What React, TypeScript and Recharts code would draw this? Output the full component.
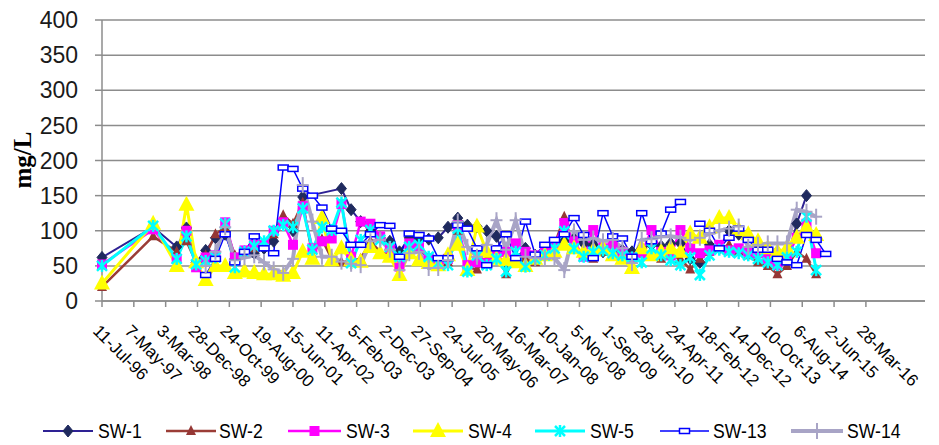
import React from "react"
import { CartesianGrid, Label, Legend, Line, LineChart, XAxis, YAxis } from "recharts"

// sampling dates (first two are one-off surveys, then roughly quarterly)
const sampleDates = [
  "1996-07-11", "1997-11-05",
  "1998-06-15", "1998-09-15", "1998-12-15",
  "1999-03-15", "1999-06-15", "1999-09-15", "1999-12-15",
  "2000-03-15", "2000-06-15", "2000-09-15", "2000-12-15",
  "2001-03-15", "2001-06-15", "2001-09-15", "2001-12-15",
  "2002-03-15", "2002-06-15", "2002-09-15", "2002-12-15",
  "2003-03-15", "2003-06-15", "2003-09-15", "2003-12-15",
  "2004-03-15", "2004-06-15", "2004-09-15", "2004-12-15",
  "2005-03-15", "2005-06-15", "2005-09-15", "2005-12-15",
  "2006-03-15", "2006-06-15", "2006-09-15", "2006-12-15",
  "2007-03-15", "2007-06-15", "2007-09-15", "2007-12-15",
  "2008-03-15", "2008-06-15", "2008-09-15", "2008-12-15",
  "2009-03-15", "2009-06-15", "2009-09-15", "2009-12-15",
  "2010-03-15", "2010-06-15", "2010-09-15", "2010-12-15",
  "2011-03-15", "2011-06-15", "2011-09-15", "2011-12-15",
  "2012-03-15", "2012-06-15", "2012-09-15", "2012-12-15",
  "2013-03-15", "2013-06-15", "2013-09-15", "2013-12-15",
  "2014-03-15", "2014-06-15", "2014-09-15", "2014-12-15",
  "2015-03-15",
]

const sw1 = [
  62, 105, 77,
  104, 55, 72, 90, 95, 60, 70, 68, 75, 85,
  115, 100, 148, null, null, null, 160, 130, 113, 100,
  90, 85, 70, 90, 88, 88, 90, 105, 118, 108,
  106, 100, 92, 55, 60, 75, 65, 70, 80, 85,
  88, 82, 80, 70, 75, 72, 70, 75, 80, 78,
  82, 82, 60, 55, 80, 75, 100, 95, 90, 80,
  75, 70, 60, 110, 150, null, null,
]
const sw2 = [
  20, 92, 70,
  85, 55, 65, 95, 105, 65, 70, 75, 80, 95,
  122, 110, 140, 65, 88, 60, 55, 58, 60, 85,
  70, 65, 50, 80, 75, 60, 55, 55, 100, 48,
  45, 60, 70, 38, 65, 60, 55, 70, 80, 120,
  75, 65, 60, 70, 75, 65, 50, 70, 65, 60,
  65, 60, 45, 60, 70, 75, 80, 70, 65, 55,
  50, 38, 50, 70, 60, 38, null,
]
const sw3 = [
  52, 102, 60,
  100, 48, 62, 65, 112, 62, 72, 80, 80, 100,
  112, 80, 135, 75, 85, 89, 138, 63, 113, 110,
  92, 75, 49, 82, 77, 61, 55, 60, 108, 51,
  55, 54, 65, 70, 82, 70, 65, 72, 80, 111,
  85, 63, 101, 75, 80, 70, 62, 68, 101, 70,
  65, 101, 75, 68, 72, 80, 72, 75, 70, 68,
  60, 51, 62, 90, 110, 68, null,
]
const sw4 = [
  25, 110, 50,
  137, 55, 30, 50, 50, 40, 42, 40, 38, 38,
  36, 40, 70, 60, 118, 58, 75, 58, 56, 77,
  68, 63, 37, 68, 58, 54, 51, 65, 80, 44,
  106, 70, 60, 58, 55, 50, 60, 65, 70, 80,
  75, 70, 72, 75, 65, 60, 47, 75, 65, 70,
  75, 70, 96, 90, 105, 118, 118, 101, 95, 85,
  75, 70, 75, 90, 105, 94, null,
]
const sw5 = [
  50, 107, 60,
  92, 52, 57, 62, 110, 48, 70, 78, 85, 100,
  108, 105, 132, 73, 105, 101, 140, 54, 87, 101,
  87, 77, 63, 77, 80, 63, 54, 51, 103, 42,
  65, 51, 60, 42, 70, 49, 60, 65, 75, 99,
  75, 63, 70, 72, 68, 65, 62, 55, 75, 65,
  58, 51, 62, 37, 65, 73, 70, 68, 65, 60,
  55, 51, 62, 70, 120, 44, null,
]
const sw13 = [
  null, null, null,
  null, null, 37, 60, 95, 55, 70, 92, 75, 68,
  190, 188, 160, 150, 133, 103, 100, 80, 80, 95,
  108, 107, 63, 96, 94, 89, 61, 61, 108, 103,
  75, 51, 75, 95, 61, 113, 66, 80, 87, 95,
  118, 94, 61, 125, 92, 89, 63, 125, 85, 96,
  130, 141, null, 110, 100, 75, 90, 103, 87, 73,
  73, 60, 55, 51, 94, 87, 67,
]
const sw14 = [
  null, null, null,
  null, null, 50, 70, 105, 58, 62, 65, 55, 45,
  40, 60, 165, 113, 63, 63, 56, 53, 51, 85,
  87, 73, 44, 68, 70, 47, 47, 58, 113, 77,
  63, 80, 115, 73, 115, 63, 61, 60, 61, 44,
  99, 87, 89, 85, 87, 75, 54, 87, 88, 92,
  92, 90, 87, 90, 96, 100, 103, 106, 77, 80,
  82, 82, 82, 130, 127, 120, null,
]

const tickLabels = [
  "11-Jul-96", "7-May-97", "3-Mar-98", "28-Dec-98", "24-Oct-99", "19-Aug-00",
  "15-Jun-01", "11-Apr-02", "5-Feb-03", "2-Dec-03", "27-Sep-04", "24-Jul-05",
  "20-May-06", "16-Mar-07", "10-Jan-08", "5-Nov-08", "1-Sep-09", "28-Jun-10",
  "24-Apr-11", "18-Feb-12", "14-Dec-12", "10-Oct-13", "6-Aug-14", "2-Jun-15",
  "28-Mar-16",
]
const yTicks = [0, 50, 100, 150, 200, 250, 300, 350, 400]

const MONTHS = ["Jan", "Feb", "Mar", "Apr", "May", "Jun", "Jul", "Aug", "Sep", "Oct", "Nov", "Dec"]
const T0 = Date.UTC(1996, 6, 11)
const DAY = 86400000
const X_MAX = 7757

const isoToDays = (iso: string) => {
  const [y, m, d] = iso.split("-").map(Number)
  return Math.round((Date.UTC(y, m - 1, d) - T0) / DAY)
}
const labelToDays = (lab: string) => {
  const [d, mon, yy] = lab.split("-")
  const y = Number(yy) > 50 ? 1900 + Number(yy) : 2000 + Number(yy)
  return Math.round((Date.UTC(y, MONTHS.indexOf(mon), Number(d)) - T0) / DAY)
}
const xTicks = tickLabels.map(labelToDays)

const data = sampleDates.map((d, i) => ({
  t: isoToDays(d),
  sw1: sw1[i],
  sw2: sw2[i],
  sw3: sw3[i],
  sw4: sw4[i],
  sw5: sw5[i],
  sw13: sw13[i],
  sw14: sw14[i],
}))

const SANS = "'Liberation Sans', Arial, sans-serif"

// markers
const Diamond = ({ cx, cy }: any) => (
  <polygon points={`${cx},${cy - 6} ${cx + 5},${cy} ${cx},${cy + 6} ${cx - 5},${cy}`} fill="#1F2A5E" stroke="#1F2A5E" />
)
const BrownTri = ({ cx, cy }: any) => (
  <polygon points={`${cx},${cy - 6} ${cx + 5},${cy + 4} ${cx - 5},${cy + 4}`} fill="#953735" />
)
const Square = ({ cx, cy }: any) => <rect x={cx - 5} y={cy - 5} width={10} height={10} fill="#FF00FF" />
const YellowTri = ({ cx, cy }: any) => (
  <polygon points={`${cx},${cy - 9} ${cx + 8},${cy + 6} ${cx - 8},${cy + 6}`} fill="#FFFF00" />
)
const Star = ({ cx, cy }: any) => (
  <g stroke="#00FFFF" strokeWidth={2.5}>
    <line x1={cx - 5} y1={cy - 5} x2={cx + 5} y2={cy + 5} />
    <line x1={cx - 5} y1={cy + 5} x2={cx + 5} y2={cy - 5} />
    <line x1={cx} y1={cy - 6} x2={cx} y2={cy + 6} />
  </g>
)
const SmallRect = ({ cx, cy }: any) => (
  <rect x={cx - 5} y={cy - 2.5} width={10} height={5} fill="#fff" stroke="#0000FF" strokeWidth={1.5} />
)
const Plus = ({ cx, cy }: any) => (
  <g stroke="#A8A4C6" strokeWidth={2}>
    <line x1={cx - 6} y1={cy} x2={cx + 6} y2={cy} />
    <line x1={cx} y1={cy - 8} x2={cx} y2={cy + 8} />
  </g>
)

const series = [
  { key: "sw1", name: "SW-1", color: "#2E2294", width: 2, Marker: Diamond, connect: true },
  { key: "sw2", name: "SW-2", color: "#9B3D36", width: 2.5, Marker: BrownTri, connect: true },
  { key: "sw3", name: "SW-3", color: "#FF00FF", width: 2.5, Marker: Square, connect: true },
  { key: "sw4", name: "SW-4", color: "#FFFF00", width: 3, Marker: YellowTri, connect: true },
  { key: "sw5", name: "SW-5", color: "#00FFFF", width: 3, Marker: Star, connect: true },
  { key: "sw13", name: "SW-13", color: "#0000FF", width: 1.5, Marker: SmallRect, connect: false },
  { key: "sw14", name: "SW-14", color: "#A8A4C6", width: 4, Marker: Plus, connect: true },
]

const makeDot = (Marker: any) => (props: any) => {
  const { cx, cy, index, value } = props
  if (value == null || cx == null || cy == null) return <g key={`e-${index}`} />
  return <Marker key={`m-${index}`} cx={cx} cy={cy} />
}

const DateTick = (props: any) => {
  const { x, y, index } = props
  return (
    <g transform={`translate(${x - 10},${y + 23}) rotate(45)`}>
      <text x={0} y={0} textAnchor="start" fontSize={17} fontFamily={SANS} fill="#000">
        {tickLabels[index]}
      </text>
    </g>
  )
}

const legendPos = [
  { x1: 43, x2: 93, tx: 98 },
  { x1: 166, x2: 216, tx: 219 },
  { x1: 288, x2: 341, tx: 346 },
  { x1: 413, x2: 463, tx: 468 },
  { x1: 535, x2: 585, tx: 590 },
  { x1: 660, x2: 709, tx: 713 },
  { x1: 791, x2: 843, tx: 847 },
]

const LegendBox = () => (
  <svg width={925} height={26} style={{ display: "block", overflow: "visible" }}>
    {series.map((s, i) => {
      const p = legendPos[i]
      const M = s.Marker
      return (
        <g key={s.key}>
          <line x1={p.x1} y1={12} x2={p.x2} y2={12} stroke={s.color} strokeWidth={s.width} />
          <M cx={(p.x1 + p.x2) / 2} cy={12} />
          <text transform={`translate(${p.tx},19) scale(0.84,1)`} fontSize={21} fontFamily={SANS} fill="#000">
            {s.name}
          </text>
        </g>
      )
    })}
  </svg>
)

export default function App() {
  return (
    <div style={{ position: "absolute", left: 0, top: 0, width: 939, height: 445, background: "#fff" }}>
      <LineChart width={939} height={445} data={data} margin={{ top: 20, right: 14, bottom: 0, left: 0 }}>
        <CartesianGrid vertical={false} stroke="#8C8C8C" strokeWidth={1.5} />
        <XAxis
          dataKey="t"
          type="number"
          domain={[0, X_MAX]}
          ticks={xTicks}
          interval={0}
          height={118}
          tick={<DateTick />}
          tickSize={6}
          tickMargin={2}
          axisLine={{ stroke: "#8C8C8C", strokeWidth: 1.5 }}
          tickLine={{ stroke: "#8C8C8C", strokeWidth: 1.5 }}
        />
        <YAxis
          domain={[0, 400]}
          ticks={yTicks}
          interval={0}
          width={102}
          tickSize={7}
          tickMargin={17}
          axisLine={{ stroke: "#8C8C8C", strokeWidth: 1.5 }}
          tickLine={{ stroke: "#8C8C8C", strokeWidth: 1.5 }}
          tick={{ fontSize: 23, fill: "#1a1a1a", fontFamily: SANS }}
        >
          <Label
            content={() => (
              <text
                x={31}
                y={160}
                transform="rotate(-90, 31, 160)"
                textAnchor="middle"
                fontSize={25}
                fontWeight="bold"
                fontFamily="'Liberation Serif', 'Times New Roman', serif"
                fill="#000"
              >
                mg/L
              </text>
            )}
          />
        </YAxis>
        <Legend verticalAlign="bottom" content={<LegendBox />} />
        {series.map((s) => (
          <Line
            key={s.key}
            dataKey={s.key}
            name={s.name}
            type="linear"
            stroke={s.color}
            strokeWidth={s.width}
            dot={makeDot(s.Marker)}
            activeDot={false}
            connectNulls={s.connect}
            isAnimationActive={false}
          />
        ))}
      </LineChart>
    </div>
  )
}
